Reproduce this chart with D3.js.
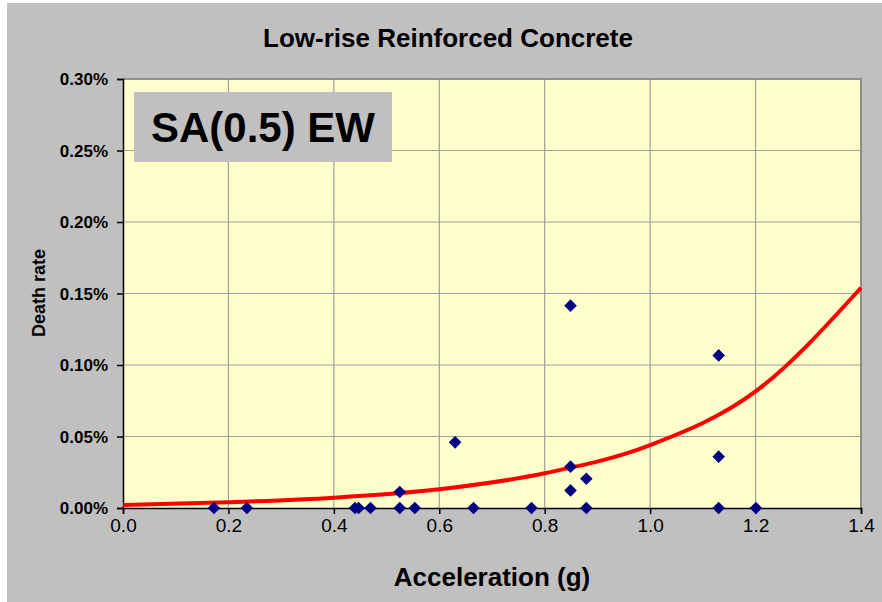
<!DOCTYPE html>
<html><head><meta charset="utf-8">
<script src="https://cdn.jsdelivr.net/npm/d3@7"></script>
<style>html,body{margin:0;padding:0;background:#fff;}svg{display:block;}</style>
</head><body>
<svg id="chart" width="882" height="602"></svg>
<script>
// Data (death rate in %)
const accel = [0.1725,0.235,0.440,0.447,0.4695,0.525,0.525,0.5535,0.630,0.665,0.775,0.849,0.849,0.849,0.879,0.879,1.130,1.130,1.130,1.2006];
const deathRate = [0,0,0,0,0,0,0.0112,0,0.0459,0,0,0.1415,0.0289,0.0123,0.0205,0,0.1067,0.0359,0,0];
const trendX = [0,0.2,0.4,0.6,0.8,1.0,1.2,1.4];
const trendY = [0.0021,0.0040,0.0072,0.0131,0.0243,0.0440,0.0815,0.154];
const xTicks = [0,0.2,0.4,0.6,0.8,1.0,1.2,1.4];
const yTicks = [0,0.05,0.10,0.15,0.20,0.25,0.30];
const title = "Low-rise Reinforced Concrete";
const xLabel = "Acceleration (g)";
const yLabel = "Death rate";
const boxLabel = "SA(0.5) EW";

const FONT = "Arial, 'Liberation Sans', sans-serif";
const svg = d3.select("#chart");
svg.append("rect").attr("x",0).attr("y",0).attr("width",882).attr("height",602).attr("fill","#fff");
svg.append("rect").attr("x",7).attr("y",3).attr("width",875).attr("height",599).attr("fill","#c0c0c0");

const L=123, R=861, T=79, B=508;
const x = d3.scaleLinear().domain([0,1.4]).range([L,R]);
const y = d3.scaleLinear().domain([0,0.30]).range([B,T]);

svg.append("rect").attr("x",L).attr("y",T).attr("width",R-L).attr("height",B-T).attr("fill","#ffffcc");

// gridlines
svg.append("g").selectAll("line").data(xTicks.slice(1)).join("line")
  .attr("x1",d=>x(d)).attr("x2",d=>x(d)).attr("y1",T).attr("y2",B)
  .attr("stroke","#a0a0a0").attr("stroke-width",1.2);
svg.append("g").selectAll("line").data(yTicks.slice(1)).join("line")
  .attr("x1",L).attr("x2",R).attr("y1",d=>y(d)).attr("y2",d=>y(d))
  .attr("stroke","#a0a0a0").attr("stroke-width",1.2);
// plot border top/right
svg.append("path").attr("d",`M${L},${T}H${R}V${B}`).attr("fill","none").attr("stroke","#808080").attr("stroke-width",1.5);

// axes
const xAxis = d3.axisBottom(x).tickValues(xTicks).tickFormat(d3.format(".1f")).tickSize(6).tickPadding(5);
const gx = svg.append("g").attr("transform",`translate(0,${B})`).call(xAxis);
gx.select(".domain").attr("stroke","#000").attr("stroke-width",1.5);
gx.selectAll(".tick line").attr("stroke","#000").attr("stroke-width",1.5);
gx.selectAll("text").attr("font-family",FONT).attr("font-size",19).attr("fill","#000");

const yAxis = d3.axisLeft(y).tickValues(yTicks).tickFormat(d=>d3.format(".2f")(d)+"%").tickSize(6).tickPadding(9);
const gy = svg.append("g").attr("transform",`translate(${L},0)`).call(yAxis);
gy.select(".domain").attr("stroke","#000").attr("stroke-width",1.5);
gy.selectAll(".tick line").attr("stroke","#000").attr("stroke-width",1.5);
gy.selectAll("text").attr("font-family",FONT).attr("font-size",17).attr("font-weight","bold").attr("fill","#000").attr("dy","0.35em");

// trend line
const clipId="clipPlot";
svg.append("clipPath").attr("id",clipId).append("rect").attr("x",L).attr("y",T).attr("width",R-L+6).attr("height",B-T);
const line = d3.line().x(d=>x(d[0])).y(d=>y(d[1])).curve(d3.curveMonotoneX);
svg.append("path").datum(trendX.map((v,i)=>[v,trendY[i]]))
  .attr("d",line).attr("fill","none").attr("stroke","#ff0000").attr("stroke-width",4)
  .attr("clip-path",`url(#${clipId})`);

// points
const pts = accel.map((v,i)=>[v,deathRate[i]]);
svg.append("g").selectAll("path").data(pts).join("path")
  .attr("d",d=>{const cx=x(d[0]),cy=y(d[1]),s=6.3;return `M${cx},${cy-s}L${cx+s},${cy}L${cx},${cy+s}L${cx-s},${cy}Z`;})
  .attr("fill","#000080");

// label box
svg.append("rect").attr("x",134).attr("y",92).attr("width",258).attr("height",70).attr("fill","#c0c0c0");
svg.append("text").attr("x",263).attr("y",142).attr("text-anchor","middle")
  .attr("font-family",FONT).attr("font-size",42).attr("font-weight","bold").text(boxLabel);

// titles
svg.append("text").attr("x",448).attr("y",47).attr("text-anchor","middle")
  .attr("font-family",FONT).attr("font-size",26).attr("font-weight","bold").text(title);
svg.append("text").attr("x",492).attr("y",586).attr("text-anchor","middle")
  .attr("font-family",FONT).attr("font-size",26).attr("font-weight","bold").text(xLabel);
svg.append("text").attr("transform",`translate(45,293) rotate(-90)`).attr("text-anchor","middle")
  .attr("font-family",FONT).attr("font-size",18).attr("font-weight","bold").text(yLabel);
</script>
</body></html>
